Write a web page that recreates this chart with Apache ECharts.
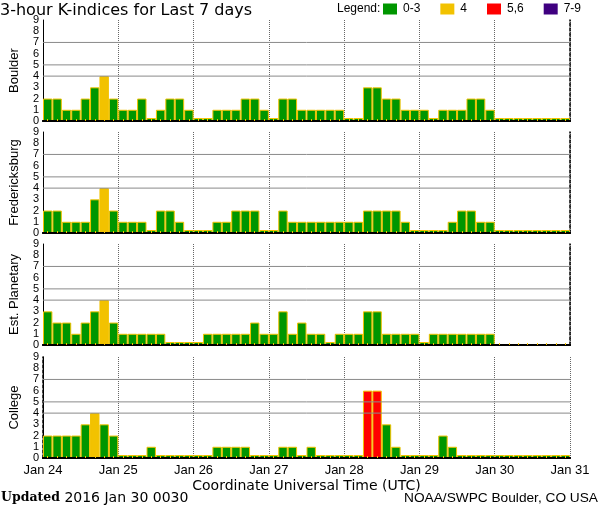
<!DOCTYPE html>
<html><head><meta charset="utf-8">
<script src="https://cdn.jsdelivr.net/npm/echarts@6/dist/echarts.min.js"></script>
<style>html,body{margin:0;padding:0;background:#fff}#c{width:600px;height:510px}</style>
</head><body><div id="c"></div>
<script>
// ---- data ----
const stations = ['Boulder', 'Fredericksburg', 'Est. Planetary', 'College'];
const boulder = [2,2,1,1,2,3,4,2, 1,1,2,0,1,2,2,1, 0,0,1,1,1,2,2,1, 0,2,2,1,1,1,1,1, 0,0,3,3,2,2,1,1, 1,0,1,1,1,2,2,1, 0,0,0,0,0,0,0,0];
const fredericksburg = [2,2,1,1,1,3,4,2, 1,1,1,0,2,2,1,0, 0,0,1,1,2,2,2,0, 0,2,1,1,1,1,1,1, 1,1,2,2,2,2,1,0, 0,0,0,1,2,2,1,1, 0,0,0,0,0,0,0,0];
const planetary = [3,2,2,1,2,3,4,2, 1,1,1,1,1,0,0,0, 0,1,1,1,1,1,2,1, 1,3,1,2,1,1,0,1, 1,1,3,3,1,1,1,1, 0,1,1,1,1,1,1,1, null,null,null,null,null,null,null,null];
const college = [2,2,2,2,3,4,3,2, 0,0,0,1,0,0,0,0, 0,0,1,1,1,1,0,0, 0,1,1,0,1,0,0,0, 0,0,6,6,3,1,0,0, 0,0,2,1,0,0,0,0, 0,0,0,0,0,0,0,0];
const seriesValues = [boulder, fredericksburg, planetary, college];
const dayLabels = ['Jan 24', 'Jan 25', 'Jan 26', 'Jan 27', 'Jan 28', 'Jan 29', 'Jan 30', 'Jan 31'];
const yTicks = [0,1,2,3,4,5,6,7,8,9];
const levelLines = [4, 5, 7];
const legendPieces = [
  {min: 0, max: 3, label: '0-3'},
  {min: 4, max: 4, label: '4'},
  {min: 5, max: 6, label: '5,6'},
  {min: 7, max: 9, label: '7-9'}
];

// ---- style ----
const GREEN = '#009600', YELLOW = '#f2c200', RED = '#ff0000', PURPLE = '#3f0080';
const GRID_GRAY = '#666';
const pieceColors = [GREEN, YELLOW, RED, PURPLE];
const FONT = 'Liberation Sans';
const WIDE = 'DejaVu Sans';
const gridTops = [20, 132, 244, 357];
const gridH = 101;
const slots = boulder.map((_, i) => String(i));
const lastDay = dayLabels.length - 1;

const grids = [], xAxes = [], yAxes = [], barSeries = [], levelSeries = [];
stations.forEach((name, i) => {
  grids.push({left: 37, right: 30, top: gridTops[i], height: gridH});
  xAxes.push({
    type: 'category', gridIndex: i, data: slots, position: 'bottom', z: 10,
    boundaryGap: true,
    axisLine: {show: true, lineStyle: {color: '#000', width: 2}},
    axisTick: {show: true, interval: 0, alignWithLabel: true, inside: true, length: 2,
               lineStyle: {color: YELLOW, width: 1}},
    axisLabel: {show: false}, splitLine: {show: false}
  });
  xAxes.push({
    type: 'value', gridIndex: i, min: 0, max: lastDay, interval: 1, position: 'top',
    axisLine: {show: true, lineStyle: {color: '#000', width: 2}},
    axisTick: {show: false}, axisLabel: {show: false},
    splitLine: {show: true, lineStyle: {color: GRID_GRAY, type: 'dotted', width: 1}}
  });
  yAxes.push({
    type: 'value', gridIndex: i, min: 0, max: 9, interval: 1,
    name: name, nameLocation: 'middle', nameGap: 22, nameRotate: 90,
    nameTextStyle: {fontFamily: FONT, fontSize: 13, color: '#000'},
    axisLine: {show: true, lineStyle: {color: '#000', width: 1}},
    axisTick: {show: false},
    axisLabel: {margin: 4, fontFamily: FONT, fontSize: 11, color: '#000',
                formatter: v => String(yTicks[v])},
    splitLine: {show: false}
  });
  yAxes.push({
    type: 'value', gridIndex: i, min: 0, max: 9, position: 'right',
    axisLine: {show: true, lineStyle: {color: '#000', width: 1.5, type: [3, 2]}},
    axisTick: {show: false}, axisLabel: {show: false}, splitLine: {show: false}
  });
  barSeries.push({
    type: 'bar', name: name, xAxisIndex: 2 * i, yAxisIndex: 2 * i, z: 2,
    data: seriesValues[i], barCategoryGap: '0%', barMinHeight: 3,
    itemStyle: {borderColor: YELLOW, borderWidth: 1},
    emphasis: {disabled: true}
  });
  levelLines.forEach(lv => {
    levelSeries.push({
      type: 'line', xAxisIndex: 2 * i + 1, yAxisIndex: 2 * i, z: 3,
      data: [[0, lv], [lastDay, lv]], symbol: 'none', silent: true,
      showSymbol: false, clip: false, animation: false,
      lineStyle: {color: '#8a8a8a', type: 'solid', width: 1, opacity: 1},
      itemStyle: {color: '#8a8a8a'}, emphasis: {disabled: true}
    });
  });
});
xAxes.push({
  type: 'value', gridIndex: 3, min: 0, max: lastDay, interval: 1, position: 'bottom',
  axisLine: {show: false}, axisTick: {show: false}, splitLine: {show: false},
  axisLabel: {margin: 6, fontFamily: FONT, fontSize: 13, color: '#000',
              formatter: v => dayLabels[v]},
  name: 'Coordinate Universal Time (UTC)', nameLocation: 'middle', nameGap: 21,
  nameTextStyle: {fontFamily: WIDE, fontSize: 14, color: '#000'}
});

const option = {
  animation: false,
  backgroundColor: '#fff',
  title: [
    {text: '3-hour K-indices for Last 7 days', left: 0, top: 3, padding: 0,
     textStyle: {fontFamily: WIDE, fontSize: 16, fontWeight: 'normal', color: '#000'}},
    {text: 'Legend:', left: 337, top: 3, padding: 0,
     textStyle: {fontFamily: FONT, fontSize: 12, fontWeight: 'normal', color: '#000'}},
    {text: '{b|Updated} 2016 Jan 30 0030', left: 1, top: 491, padding: 0,
     textStyle: {fontFamily: WIDE, fontSize: 14, fontWeight: 'normal', color: '#000',
       rich: {b: {fontFamily: 'DejaVu Serif', fontWeight: 'bold', fontSize: 12.5, color: '#000'}}}},
    {text: 'NOAA/SWPC Boulder, CO USA', right: 2, top: 491, padding: 0,
     textStyle: {fontFamily: FONT, fontSize: 13.7, fontWeight: 'normal', color: '#000'}}
  ],
  visualMap: {
    type: 'piecewise', seriesIndex: [0, 1, 2, 3], orient: 'horizontal',
    left: 383, top: 3, padding: 0, itemWidth: 14, itemHeight: 11, itemGap: 20, textGap: 6,
    itemSymbol: 'rect', selectedMode: false, showLabel: true,
    pieces: legendPieces.map((p, k) => Object.assign({}, p, {color: pieceColors[k]})),
    textStyle: {fontFamily: FONT, fontSize: 12, color: '#000'}
  },
  grid: grids, xAxis: xAxes, yAxis: yAxes,
  series: barSeries.concat(levelSeries)
};
const chart = echarts.init(document.getElementById('c'), null, {renderer: 'canvas'});
chart.setOption(option);
</script></body></html>
